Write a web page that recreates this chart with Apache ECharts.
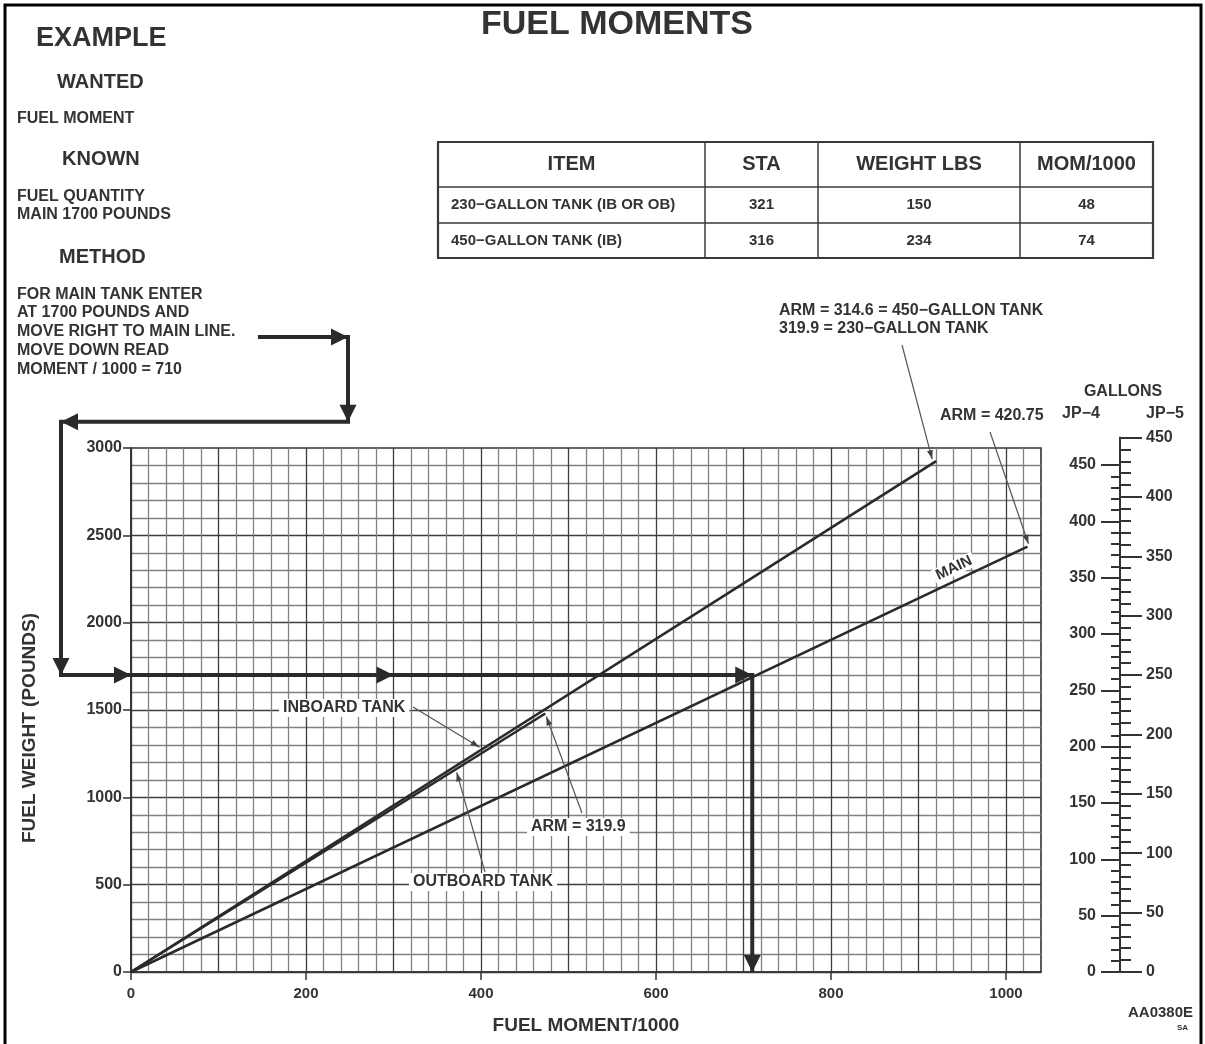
<!DOCTYPE html>
<html>
<head>
<meta charset="utf-8">
<title>Fuel Moments</title>
<script src="https://cdn.jsdelivr.net/npm/echarts@6/dist/echarts.min.js"></script>
<style>
html, body { margin: 0; padding: 0; background: #fff; }
#chart { width: 1205px; height: 1044px; }
</style>
</head>
<body>
<div id="chart"></div>
<script>
// ---------------- chart data ----------------
const momentTicks = [0, 200, 400, 600, 800, 1000];
const weightTicks = [0, 500, 1000, 1500, 2000, 2500, 3000];
const gallonTicks = [0, 50, 100, 150, 200, 250, 300, 350, 400, 450];

// fuel lines: arm (in.) and the fuel weight (lbs) where each line stops
const lineNames = ['MAIN', '450-GALLON TANK', '230-GALLON TANK'];
const lineArms = [420.75, 314.6, 319.9];
const lineEndWeights = [2435, 2925, 1480];

// worked example: main tank 1700 lbs -> moment/1000 = 710
const exampleWeight = 1700;
const exampleMoment = 710;

// fuel density (lbs per gallon) used by the gallon scales
const jp4Density = 6.45;
const jp5Density = 6.8;

// station table
const tableHeader = ['ITEM', 'STA', 'WEIGHT LBS', 'MOM/1000'];
const tableItems = ['230\u2212GALLON TANK (IB OR OB)', '450\u2212GALLON TANK (IB)'];
const tableSta = ['321', '316'];
const tableWeight = ['150', '234'];
const tableMom = ['48', '74'];

// ---------------- layout & style ----------------
const FAMILY = '"Liberation Sans", Arial, Helvetica, sans-serif';
const INK = '#2a2a2a';
const TXT = '#333';
const font = (size) => 'bold ' + size + 'px ' + FAMILY;

const PLOT = { left: 131, top: 448, width: 910, height: 524 };   // 0..1040 by 0..3000
const MOMENT_MAX = 1040;
const WEIGHT_MAX = 3000;
const plotBottom = PLOT.top + PLOT.height;
const pxPerLb = PLOT.height / WEIGHT_MAX;
const gallonMax = gallonTicks[gallonTicks.length - 1];
const jp4Height = gallonMax * jp4Density * pxPerLb;
const jp5Height = gallonMax * jp5Density * pxPerLb;
const scaleX = 1120;

// heavier line every 100 units of moment / 500 lbs of weight
const gridColors = ['#3e3e3e', '#818181', '#818181', '#818181', '#818181'];

function lineData(i) {
  const w = lineEndWeights[i];
  return [[0, 0], [w * lineArms[i] / 1000, w]];
}
function pointOn(i, w) { return [w * lineArms[i] / 1000, w]; }

function unit(a, b) {
  const dx = b[0] - a[0], dy = b[1] - a[1];
  const l = Math.hypot(dx, dy) || 1;
  return [dx / l, dy / l];
}
function arrowHead(tip, dir, len, half, fill) {
  const nx = -dir[1], ny = dir[0];
  const bx = tip[0] - dir[0] * len, by = tip[1] - dir[1] * len;
  return {
    type: 'polygon',
    shape: { points: [tip.slice(), [bx + nx * half, by + ny * half], [bx - nx * half, by - ny * half]] },
    style: { fill: fill, stroke: null }
  };
}
function leader(from, to) {
  return [
    { type: 'line', shape: { x1: from[0], y1: from[1], x2: to[0], y2: to[1] },
      style: { stroke: '#555', lineWidth: 1.2 } },
    arrowHead(to, unit(from, to), 9, 3, '#444')
  ];
}

// path of the worked example (moment, weight); the first corners lie above the plot
const exampleRoute = [
  [145, 3635], [248, 3635], [248, 3150], [-80, 3150],
  [-80, exampleWeight], [exampleMoment, exampleWeight], [exampleMoment, 0]
];
const midArrows = [0, 300];   // extra arrowheads along the 1700 lb line

function renderGuides(params, api) {
  const c = (p) => api.coord(p);
  const pts = exampleRoute.map(c);
  const kids = [{
    type: 'polyline', shape: { points: pts },
    style: { stroke: INK, lineWidth: 4, fill: 'none', lineJoin: 'miter', lineCap: 'butt' }
  }];
  for (let i = 0; i < pts.length - 1; i++) {
    kids.push(arrowHead(pts[i + 1], unit(pts[i], pts[i + 1]), 17, 8.5, INK));
  }
  midArrows.forEach((m) => kids.push(arrowHead(c([m, exampleWeight]), [1, 0], 17, 8.5, INK)));

  const off = (p, dx, dy) => [p[0] + dx, p[1] + dy];
  const end450 = c(lineData(1)[1]);
  const endMain = c(lineData(0)[1]);
  const end230 = c(lineData(2)[1]);
  kids.push(...leader([902, 345], off(end450, -4, -2)));
  kids.push(...leader([990, 432], off(endMain, 1, -3)));
  kids.push(...leader([413, 707], off(c(pointOn(1, 1270)), -1, -3)));
  kids.push(...leader([582, 813], off(end230, 1, 3)));
  kids.push(...leader([485, 872], off(c(pointOn(2, 1160)), 1, 3)));
  return { type: 'group', children: kids };
}

// ---------------- decorations ----------------
function label(text, x, y, size, opts) {
  return Object.assign({
    type: 'text', x: x, y: y, z: 50,
    style: Object.assign({ text: text, font: font(size), fill: TXT, textAlign: 'left', textVerticalAlign: 'middle' },
      (opts && opts.style) || {})
  }, opts && opts.el || {});
}
const masked = { style: { backgroundColor: '#fff', padding: [1, 4] } };

const graphics = [
  { type: 'rect', z: 60, shape: { x: 5, y: 5, width: 1196, height: 1080 },
    style: { fill: 'none', stroke: '#000', lineWidth: 3 } },
  label('FUEL MOMENTS', 617, 25, 34, { style: { textAlign: 'center' } }),
  label('EXAMPLE', 36, 39, 27),
  label('WANTED', 57, 82, 20),
  label('FUEL MOMENT', 17, 119, 16),
  label('KNOWN', 62, 159, 20),
  label('FUEL QUANTITY', 17, 197, 16),
  label('MAIN 1700 POUNDS', 17, 215, 16),
  label('METHOD', 59, 257, 20),
  label('FOR MAIN TANK ENTER', 17, 295, 16),
  label('AT 1700 POUNDS AND', 17, 313, 16),
  label('MOVE RIGHT TO MAIN LINE.', 17, 332, 16),
  label('MOVE DOWN READ', 17, 351, 16),
  label('MOMENT / 1000 = 710', 17, 370, 16),
  label('ARM = 314.6 = 450\u2212GALLON TANK', 779, 311, 16),
  label('319.9 = 230\u2212GALLON TANK', 779, 329, 16),
  label('ARM = 420.75', 940, 416, 16),
  label('GALLONS', 1123, 392, 16, { style: { textAlign: 'center' } }),
  label('JP\u22124', 1081, 414, 16, { style: { textAlign: 'center' } }),
  label('JP\u22125', 1165, 414, 16, { style: { textAlign: 'center' } }),
  label('INBOARD TANK', 279, 708, 16, masked),
  label('ARM = 319.9', 527, 827, 16, masked),
  label('OUTBOARD TANK', 409, 882, 16, masked),
  label('MAIN', 954, 568, 15, { style: { textAlign: 'center', backgroundColor: '#fff', padding: [0, 3] },
    el: { rotation: Math.atan2(425, 899) } }),
  label('AA0380E', 1193, 1013, 15, { style: { textAlign: 'right' } }),
  label('SA', 1188, 1028, 8, { style: { textAlign: 'right' } })
];

// station table
(function buildTable() {
  const cols = [438, 705, 818, 1020, 1153];
  const rows = [142, 187, 223, 258];
  graphics.push({ type: 'rect', z: 40, shape: { x: cols[0], y: rows[0], width: cols[4] - cols[0], height: rows[3] - rows[0] },
    style: { fill: '#fff', stroke: '#3a3a3a', lineWidth: 2.2 } });
  for (let i = 1; i < 4; i++) {
    graphics.push({ type: 'line', z: 41, shape: { x1: cols[i], y1: rows[0], x2: cols[i], y2: rows[3] },
      style: { stroke: '#3a3a3a', lineWidth: 1.5 } });
  }
  for (let j = 1; j < 3; j++) {
    graphics.push({ type: 'line', z: 41, shape: { x1: cols[0], y1: rows[j], x2: cols[4], y2: rows[j] },
      style: { stroke: '#3a3a3a', lineWidth: 1.5 } });
  }
  const mid = (a, b) => (a + b) / 2;
  tableHeader.forEach((h, i) => graphics.push(
    label(h, mid(cols[i], cols[i + 1]), mid(rows[0], rows[1]), 20, { style: { textAlign: 'center' } })));
  for (let r = 0; r < tableItems.length; r++) {
    const y = mid(rows[r + 1], rows[r + 2]);
    graphics.push(label(tableItems[r], cols[0] + 13, y, 15));
    graphics.push(label(tableSta[r], mid(cols[1], cols[2]), y, 15, { style: { textAlign: 'center' } }));
    graphics.push(label(tableWeight[r], mid(cols[2], cols[3]), y, 15, { style: { textAlign: 'center' } }));
    graphics.push(label(tableMom[r], mid(cols[3], cols[4]), y, 15, { style: { textAlign: 'center' } }));
  }
})();

// ---------------- axes ----------------
const axisText = (size) => ({ fontFamily: FAMILY, fontWeight: 'bold', fontSize: size, color: TXT,
  formatter: (v) => String(v) });
const darkLine = (w) => ({ color: '#333', width: w });
const plain = (size) => ({ fontFamily: FAMILY, fontWeight: 'bold', fontSize: size, color: TXT });

function gallonAxis(grid, pos, tickLen, minorLen, margin) {
  return {
    type: 'value', gridIndex: grid, min: 0, max: gallonMax, interval: 50, position: pos,
    axisLine: { show: true, onZero: false, lineStyle: darkLine(2) },
    axisTick: { show: true, length: tickLen, lineStyle: darkLine(2) },
    minorTick: { show: true, splitNumber: 5, length: minorLen, lineStyle: darkLine(2) },
    axisLabel: Object.assign({ margin: margin, customValues: gallonTicks }, axisText(16)),
    splitLine: { show: false }
  };
}
const hiddenX = (grid) => ({ type: 'value', gridIndex: grid, min: 0, max: 1, show: false });

// axes that only carry the fine graph-paper rulings
function rulingAxis(max, step) {
  return {
    type: 'value', gridIndex: 0, min: 0, max: max, interval: step,
    axisLine: { show: false }, axisTick: { show: false }, axisLabel: { show: false },
    splitLine: { show: true, showMaxLine: false, lineStyle: { color: gridColors, width: 1.3 } }
  };
}

const option = {
  backgroundColor: '#fff',
  animation: false,
  graphic: { elements: graphics },
  grid: [
    { left: PLOT.left, top: PLOT.top, width: PLOT.width, height: PLOT.height,
      show: true, borderColor: '#333', borderWidth: 1.6, backgroundColor: 'transparent' },
    { left: scaleX, top: plotBottom - jp4Height, width: 1, height: jp4Height },
    { left: scaleX - 1, top: plotBottom - jp5Height, width: 1, height: jp5Height }
  ],
  xAxis: [
    {
      type: 'value', gridIndex: 0, min: 0, max: MOMENT_MAX, interval: 200,
      name: 'FUEL MOMENT/1000', nameLocation: 'middle', nameGap: 44,
      nameTextStyle: plain(19),
      axisLine: { show: true, onZero: false, lineStyle: darkLine(1.6) },
      axisTick: { show: true, customValues: momentTicks, length: 8, lineStyle: darkLine(1.5) },
      axisLabel: Object.assign({ customValues: momentTicks, margin: 14 }, axisText(15)),
      splitLine: { show: false }
    },
    hiddenX(1), hiddenX(2),
    rulingAxis(MOMENT_MAX, 20)
  ],
  yAxis: [
    {
      type: 'value', gridIndex: 0, min: 0, max: WEIGHT_MAX, interval: 500,
      name: 'FUEL WEIGHT (POUNDS)', nameLocation: 'middle', nameGap: 92,
      nameTextStyle: Object.assign({ padding: [0, 36, 0, 0] }, plain(19)),
      axisLine: { show: true, onZero: false, lineStyle: darkLine(1.6) },
      axisTick: { show: true, customValues: weightTicks, length: 8, lineStyle: darkLine(1.5) },
      axisLabel: Object.assign({ customValues: weightTicks, margin: 9 }, axisText(16)),
      splitLine: { show: false }
    },
    gallonAxis(1, 'left', 19, 9, 24),    // JP-4
    gallonAxis(2, 'right', 22, 11, 26),  // JP-5
    rulingAxis(WEIGHT_MAX, 100)
  ],
  series: [
    ...lineNames.map((n, i) => ({
      name: n, type: 'line', xAxisIndex: 0, yAxisIndex: 0, z: 3,
      data: lineData(i), symbol: 'none', silent: true,
      lineStyle: { color: INK, width: 2.6 }
    })),
    {
      name: 'example', type: 'custom', xAxisIndex: 0, yAxisIndex: 0, z: 5, clip: false, silent: true,
      data: [[0, 0]], renderItem: renderGuides
    }
  ]
};

const chart = echarts.init(document.getElementById('chart'));
chart.setOption(option);
</script>
</body>
</html>
